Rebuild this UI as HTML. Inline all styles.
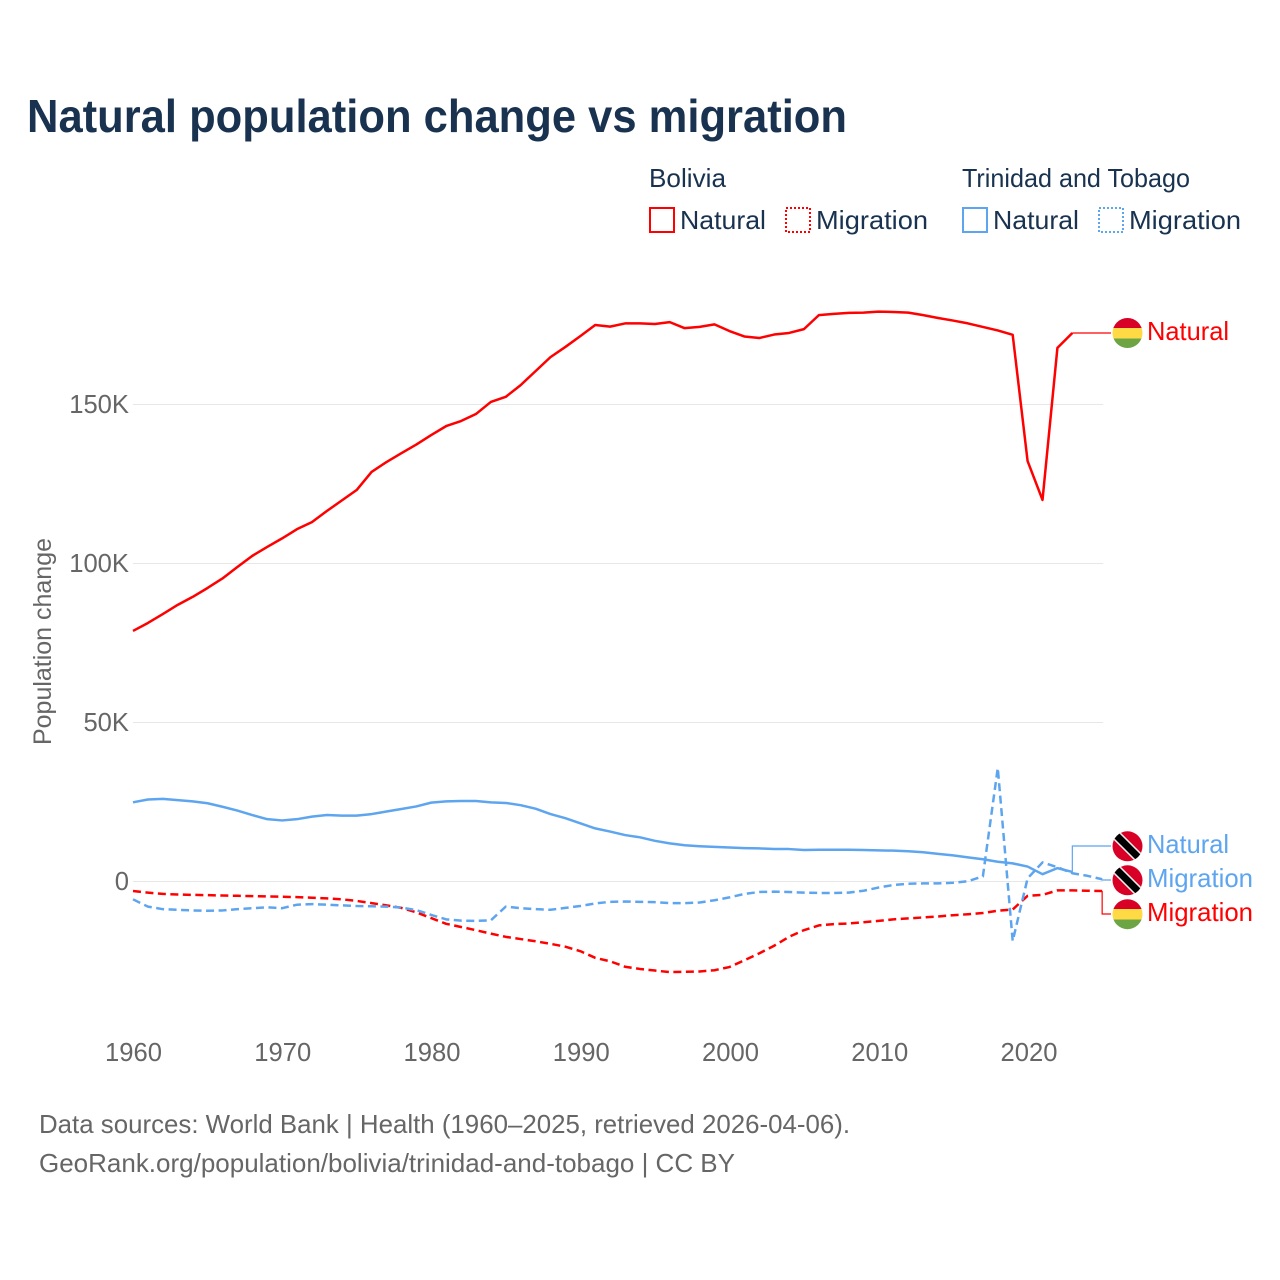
<!DOCTYPE html>
<html lang="en">
<head>
<meta charset="utf-8">
<title>Natural population change vs migration</title>
<style>
  html, body { margin: 0; padding: 0; background: #fff; }
  svg { display: block; font-family: "Liberation Sans", sans-serif; }
</style>
</head>
<body>
<svg id="chart" xmlns="http://www.w3.org/2000/svg" width="1280" height="1280" viewBox="0 0 1280 1280">
  <defs>
    <clipPath id="flag-clip-1"><circle cx="1127.5" cy="333" r="15"/></clipPath>
    <clipPath id="flag-clip-2"><circle cx="1127.5" cy="846.3" r="15"/></clipPath>
    <clipPath id="flag-clip-3"><circle cx="1127.5" cy="880.3" r="15"/></clipPath>
    <clipPath id="flag-clip-4"><circle cx="1127.5" cy="914.2" r="15"/></clipPath>
  </defs>
  <rect width="1280" height="1280" fill="#ffffff"/>

  <text x="27" y="132" font-size="46" font-weight="700" fill="#18324f" textLength="820" lengthAdjust="spacingAndGlyphs">Natural population change vs migration</text>

  <g font-size="26" fill="#18324f">
    <text x="649" y="187" textLength="77" lengthAdjust="spacingAndGlyphs">Bolivia</text>
    <text x="962" y="187" textLength="228" lengthAdjust="spacingAndGlyphs">Trinidad and Tobago</text>
    <g>
      <rect x="650" y="208" width="24" height="24" fill="none" stroke="#ff0000" stroke-width="2"/>
      <text x="680" y="229" textLength="86" lengthAdjust="spacingAndGlyphs">Natural</text>
    </g>
    <g>
      <rect x="786" y="208" width="24" height="24" fill="none" stroke="#ff0000" stroke-width="2" stroke-dasharray="2 2"/>
      <text x="816" y="229" textLength="112" lengthAdjust="spacingAndGlyphs">Migration</text>
    </g>
    <g>
      <rect x="963" y="208" width="24" height="24" fill="none" stroke="#5ea5ef" stroke-width="2"/>
      <text x="993" y="229" textLength="86" lengthAdjust="spacingAndGlyphs">Natural</text>
    </g>
    <g>
      <rect x="1099" y="208" width="24" height="24" fill="none" stroke="#5ea5ef" stroke-width="2" stroke-dasharray="2 2"/>
      <text x="1129" y="229" textLength="112" lengthAdjust="spacingAndGlyphs">Migration</text>
    </g>
  </g>

  <text transform="translate(51,641.5) rotate(-90)" text-anchor="middle" font-size="25" fill="#666666" textLength="207" lengthAdjust="spacingAndGlyphs">Population change</text>

  <g id="grid"></g>
  <g id="y-ticks"></g>
  <g id="x-ticks"></g>
  <g id="series"></g>
  <g id="connectors"></g>

  <g clip-path="url(#flag-clip-1)">
    <rect x="1112" y="318" width="31" height="10" fill="#d80027"/>
    <rect x="1112" y="328" width="31" height="10.5" fill="#ffda44"/>
    <rect x="1112" y="338.5" width="31" height="10" fill="#6da544"/>
  </g>
  <g clip-path="url(#flag-clip-2)">
    <rect x="1112" y="831" width="31" height="31" fill="#d80027"/>
    <line x1="1112" y1="831" x2="1143" y2="862" stroke="#f0f0f0" stroke-width="10"/>
    <line x1="1112" y1="831" x2="1143" y2="862" stroke="#000000" stroke-width="7"/>
  </g>
  <g clip-path="url(#flag-clip-3)">
    <rect x="1112" y="865" width="31" height="31" fill="#d80027"/>
    <line x1="1112" y1="865" x2="1143" y2="896" stroke="#f0f0f0" stroke-width="10"/>
    <line x1="1112" y1="865" x2="1143" y2="896" stroke="#000000" stroke-width="7"/>
  </g>
  <g clip-path="url(#flag-clip-4)">
    <rect x="1112" y="899" width="31" height="10" fill="#d80027"/>
    <rect x="1112" y="909" width="31" height="10.5" fill="#ffda44"/>
    <rect x="1112" y="919.5" width="31" height="10" fill="#6da544"/>
  </g>

  <g font-size="26">
    <text x="1147" y="340" fill="#ff0000" textLength="82" lengthAdjust="spacingAndGlyphs">Natural</text>
    <text x="1147" y="853" fill="#5ea5ef" textLength="82" lengthAdjust="spacingAndGlyphs">Natural</text>
    <text x="1147" y="887" fill="#5ea5ef" textLength="106" lengthAdjust="spacingAndGlyphs">Migration</text>
    <text x="1147" y="921" fill="#ff0000" textLength="106" lengthAdjust="spacingAndGlyphs">Migration</text>
  </g>

  <g font-size="26" fill="#666666">
    <text x="39" y="1133" textLength="811" lengthAdjust="spacingAndGlyphs">Data sources: World Bank | Health (1960–2025, retrieved 2026-04-06).</text>
    <text x="39" y="1172" textLength="696" lengthAdjust="spacingAndGlyphs">GeoRank.org/population/bolivia/trinidad-and-tobago | CC BY</text>
  </g>
</svg>

<script>
const years = [1960,1961,1962,1963,1964,1965,1966,1967,1968,1969,1970,1971,1972,1973,1974,1975,1976,1977,1978,1979,1980,1981,1982,1983,1984,1985,1986,1987,1988,1989,1990,1991,1992,1993,1994,1995,1996,1997,1998,1999,2000,2001,2002,2003,2004,2005,2006,2007,2008,2009,2010,2011,2012,2013,2014,2015,2016,2017,2018,2019,2020,2021,2022,2023,2024,2025];
const boliviaNatural = [78.8,81.3,84.1,87,89.5,92.3,95.3,98.9,102.4,105.2,107.9,110.8,113,116.5,119.8,123.1,128.8,131.9,134.7,137.4,140.4,143.2,144.8,147,150.8,152.4,156.1,160.5,164.9,168.1,171.5,175,174.5,175.5,175.5,175.3,175.9,174,174.4,175.2,173.1,171.4,170.9,172,172.5,173.7,178.1,178.5,178.8,178.9,179.2,179.1,178.9,178.1,177.2,176.4,175.5,174.4,173.3,171.9,132.2,120,167.8,172.5];
const boliviaMigration = [-3,-3.5,-3.9,-4.1,-4.2,-4.3,-4.4,-4.5,-4.6,-4.7,-4.8,-4.9,-5.1,-5.3,-5.6,-6.1,-6.8,-7.5,-8.3,-9.7,-11.5,-13.3,-14.3,-15.3,-16.4,-17.4,-18.1,-18.8,-19.6,-20.5,-21.9,-24,-25.1,-26.8,-27.5,-28,-28.5,-28.4,-28.3,-27.9,-26.9,-24.8,-22.6,-20.2,-17.4,-15.3,-13.8,-13.4,-13.2,-12.8,-12.4,-11.9,-11.6,-11.3,-11,-10.6,-10.3,-9.9,-9.2,-8.8,-4.5,-4.2,-2.8,-2.8,-2.9,-3];
const trinidadNatural = [24.9,25.8,26,25.6,25.2,24.6,23.5,22.3,20.9,19.6,19.2,19.6,20.4,20.9,20.7,20.7,21.2,22,22.8,23.6,24.8,25.2,25.3,25.3,24.9,24.7,24,22.9,21.2,19.9,18.3,16.7,15.7,14.6,13.9,12.8,12,11.4,11.1,10.9,10.7,10.5,10.4,10.2,10.2,9.9,10,10,10,9.9,9.8,9.7,9.5,9.2,8.7,8.2,7.6,7,6.2,5.7,4.7,2.3,4.2,3];
const trinidadMigration = [-5.6,-7.9,-8.7,-8.9,-9.1,-9.2,-9.1,-8.7,-8.4,-8.1,-8.4,-7.3,-7.1,-7.3,-7.5,-7.7,-7.8,-7.9,-8.2,-9,-10.5,-11.9,-12.3,-12.4,-12.2,-7.9,-8.4,-8.7,-8.9,-8.3,-7.7,-6.9,-6.4,-6.3,-6.4,-6.5,-6.8,-6.8,-6.6,-5.9,-5,-3.9,-3.3,-3.2,-3.3,-3.5,-3.6,-3.6,-3.5,-2.9,-1.9,-1.1,-0.7,-0.6,-0.6,-0.4,0.1,1.6,35.7,-18.7,1,6,4.5,2.6,1.8,0.7];
const yTickValues = [0,50,100,150];
const yTickLabels = ["0","50K","100K","150K"];
const xTickValues = [1960,1970,1980,1990,2000,2010,2020];
const xTickLabels = ["1960","1970","1980","1990","2000","2010","2020"];

const SVG_NS = "http://www.w3.org/2000/svg";
const RED = "#ff0000";
const BLUE = "#5ea5ef";

function xScale(year) { return 133 + (year - 1960) * 14.91; }
function yScale(value) { return 881.5 - value * 3.18; }

function make(tag, parentId) {
  const el = document.createElementNS(SVG_NS, tag);
  document.getElementById(parentId).appendChild(el);
  return el;
}

yTickValues.forEach(function (value, i) {
  const line = make("line", "grid");
  
  
  line.setAttribute("x1", xScale(1960));
  line.setAttribute("x2", xScale(2025) + 1);
  line.setAttribute("y1", yScale(value));
  line.setAttribute("y2", yScale(value));
  line.setAttribute("stroke", "#e7e7e7");
  line.setAttribute("stroke-width", "1");

  const label = make("text", "y-ticks");
  
  
  label.setAttribute("x", 129);
  label.setAttribute("y", yScale(value) + 8.5);
  label.setAttribute("text-anchor", "end");
  label.setAttribute("font-size", "25.6");
  label.setAttribute("fill", "#666666");
  label.textContent = yTickLabels[i];
});

xTickValues.forEach(function (value, i) {
  const label = make("text", "x-ticks");
  
  
  label.setAttribute("x", xScale(value) + 0.5 + i * 0.15);
  label.setAttribute("y", 1061);
  label.setAttribute("text-anchor", "middle");
  label.setAttribute("font-size", "25.6");
  label.setAttribute("fill", "#666666");
  label.textContent = xTickLabels[i];
});

function drawSeries(values, name, color, dashed) {
  const path = make("path", "series");
  
  
  const d = values.map(function (v, i) {
    return (i === 0 ? "M" : "L") + xScale(years[i]).toFixed(2) + " " + yScale(v).toFixed(2);
  }).join(" ");
  path.setAttribute("d", d);
  path.setAttribute("fill", "none");
  path.setAttribute("stroke", color);
  path.setAttribute("stroke-width", "2.5");
  path.setAttribute("stroke-linejoin", "round");
  if (dashed) path.setAttribute("stroke-dasharray", "8 4.5");
}

function drawConnector(values, name, color, labelY) {
  const last = values.length - 1;
  const path = make("path", "connectors");
  
  
  const ex = xScale(years[last]).toFixed(2);
  const ey = yScale(values[last]).toFixed(2);
  path.setAttribute("d", "M" + ex + " " + ey + " V" + labelY + " H1111");
  path.setAttribute("fill", "none");
  path.setAttribute("stroke", color);
  path.setAttribute("stroke-width", "1.2");
}

drawSeries(boliviaNatural, "line-bolivia-natural", RED, false);
drawSeries(boliviaMigration, "line-bolivia-migration", RED, true);
drawSeries(trinidadNatural, "line-trinidad-natural", BLUE, false);
drawSeries(trinidadMigration, "line-trinidad-migration", BLUE, true);

drawConnector(boliviaNatural, "connector-bolivia-natural", RED, 333);
drawConnector(trinidadNatural, "connector-trinidad-natural", BLUE, 846);
drawConnector(trinidadMigration, "connector-trinidad-migration", BLUE, 880);
drawConnector(boliviaMigration, "connector-bolivia-migration", RED, 914);
</script>
</body>
</html>
